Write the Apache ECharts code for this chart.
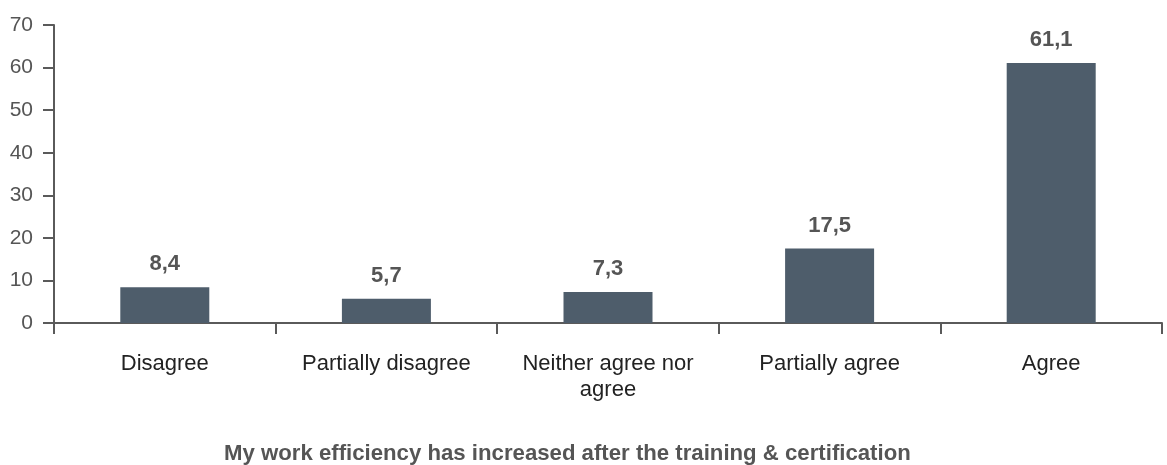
<!DOCTYPE html>
<html>
<head>
<meta charset="utf-8">
<script src="https://cdn.jsdelivr.net/npm/echarts@6/dist/echarts.min.js"></script>
<style>
  html, body { margin: 0; padding: 0; background: #fff; }
  #chart { width: 1167px; height: 465px; }
</style>
</head>
<body>
<div id="chart"></div>
<script>
const categories = ['Disagree', 'Partially disagree', 'Neither agree nor\nagree', 'Partially agree', 'Agree']
const values = [8.4, 5.7, 7.3, 17.5, 61.1]
const chartTitle = 'My work efficiency has increased after the training & certification'

const axisColor = '#5a5a5a'
const myChart = echarts.init(document.getElementById('chart'))

const option = {
  animation: false,
  title: {
    text: chartTitle,
    left: 224,
    top: 443,
    padding: 0,
    textStyle: {
      fontFamily: 'Liberation Sans',
      fontSize: 22.2,
      fontWeight: 'bold',
      color: '#555'
    }
  },
  grid: {
    left: 54,
    right: 5,
    top: 25,
    bottom: 142
  },
  xAxis: {
    type: 'category',
    data: categories,
    boundaryGap: true,
    axisLine: { lineStyle: { color: axisColor, width: 2 } },
    axisTick: { show: true, length: 11, lineStyle: { color: axisColor, width: 2 } },
    axisLabel: {
      interval: 0,
      margin: 28,
      fontFamily: 'Liberation Sans',
      fontSize: 22,
      lineHeight: 26,
      color: '#222'
    }
  },
  yAxis: {
    type: 'value',
    min: 0,
    max: 70,
    interval: 10,
    splitLine: { show: false },
    axisLine: { show: true, lineStyle: { color: axisColor, width: 2 } },
    axisTick: { show: true, inside: false, length: 11, lineStyle: { color: axisColor, width: 2 } },
    axisLabel: {
      margin: 21,
      fontFamily: 'Liberation Sans',
      fontSize: 21,
      color: '#555'
    }
  },
  series: [
    {
      type: 'bar',
      data: values,
      barWidth: 89,
      itemStyle: { color: '#4e5d6b' },
      label: {
        show: true,
        position: 'top',
        distance: 12,
        fontFamily: 'Liberation Sans',
        fontSize: 22,
        fontWeight: 'bold',
        color: '#555',
        formatter: p => String(p.value).replace('.', ',')
      }
    }
  ]
}

myChart.setOption(option)
</script>
</body>
</html>
